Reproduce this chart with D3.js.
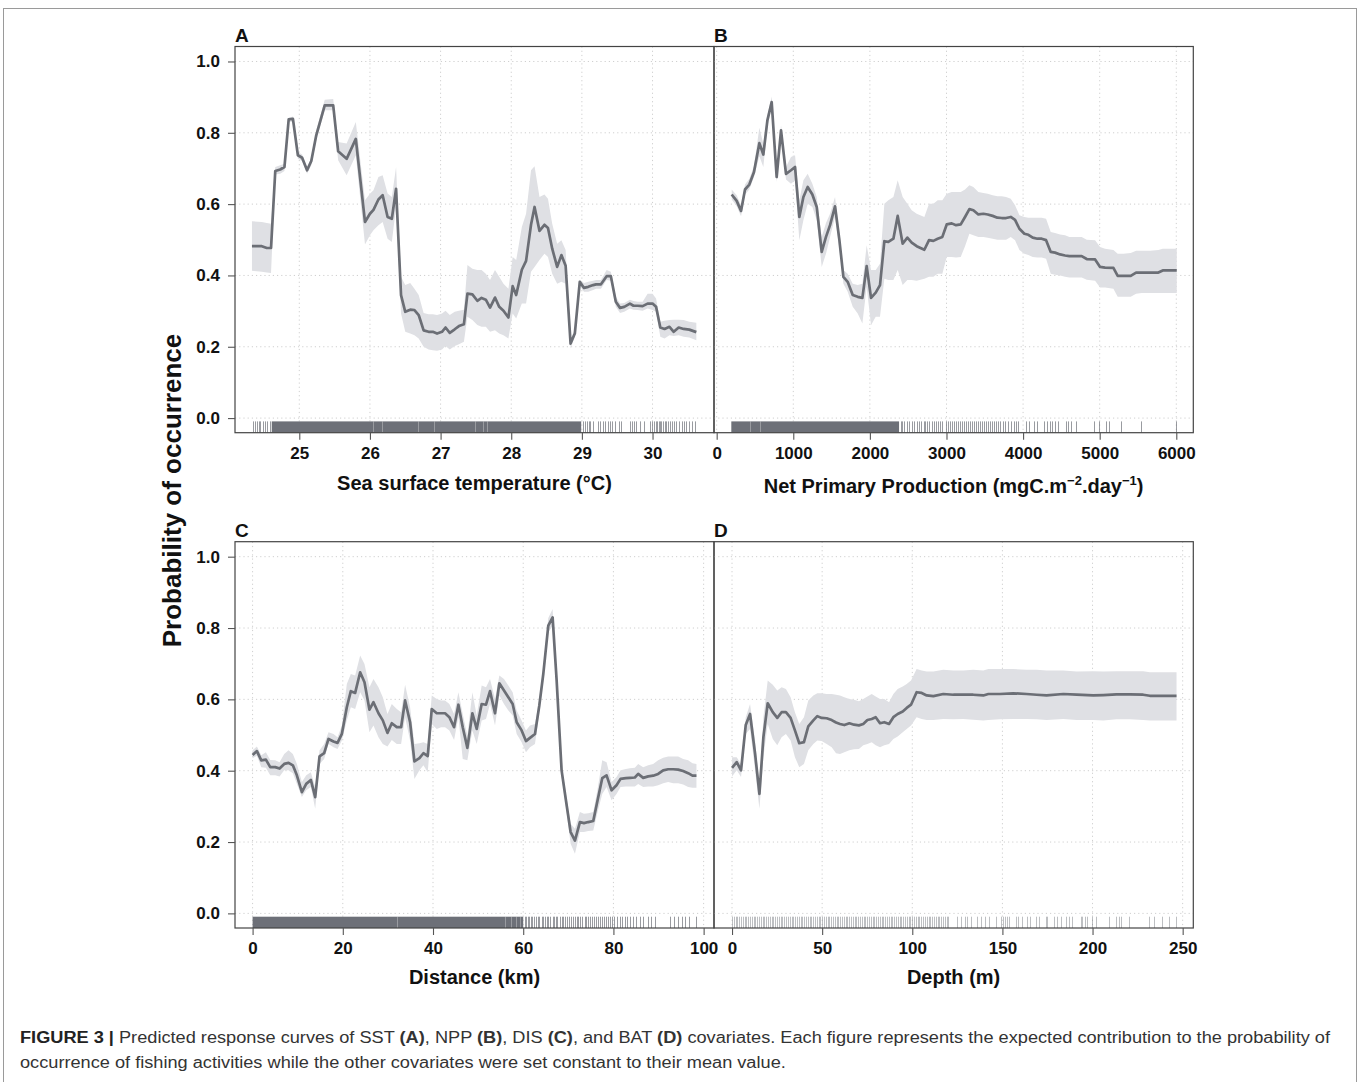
<!DOCTYPE html>
<html><head><meta charset="utf-8">
<script src="https://cdn.jsdelivr.net/npm/d3@7"></script>
<style>
body{margin:0;background:#fff}
svg{display:block}
text{font-family:"Liberation Sans",Arial,Helvetica,sans-serif}
</style>
</head><body>
<svg id="c" width="1360" height="1082"></svg>
<script>
// ---------------- DATA ----------------
const yTickValues = [0.0, 0.2, 0.4, 0.6, 0.8, 1.0];

// Panel A : Sea surface temperature
const sstTicks = [25, 26, 27, 28, 29, 30];
const sstX = [24.33,24.47,24.54,24.60,24.66,24.73,24.79,24.85,24.91,24.98,25.04,25.11,25.17,25.24,25.36,25.48,25.55,25.67,25.80,25.93,26.00,26.05,26.12,26.18,26.25,26.31,26.37,26.44,26.50,26.57,26.63,26.69,26.76,26.83,26.89,26.95,27.02,27.07,27.13,27.20,27.26,27.33,27.38,27.45,27.52,27.58,27.64,27.70,27.77,27.83,27.89,27.96,28.02,28.07,28.15,28.21,28.28,28.33,28.40,28.47,28.52,28.58,28.65,28.71,28.77,28.84,28.90,28.97,29.03,29.09,29.16,29.20,29.27,29.35,29.41,29.48,29.54,29.60,29.68,29.73,29.79,29.86,29.93,30.00,30.05,30.11,30.17,30.24,30.30,30.37,30.44,30.52,30.62];
const sstFit = [0.482,0.482,0.477,0.477,0.693,0.697,0.704,0.838,0.839,0.737,0.730,0.695,0.721,0.793,0.877,0.877,0.748,0.727,0.783,0.550,0.573,0.584,0.613,0.625,0.564,0.559,0.643,0.345,0.298,0.304,0.303,0.289,0.246,0.242,0.242,0.237,0.242,0.254,0.239,0.249,0.258,0.263,0.349,0.347,0.329,0.337,0.332,0.310,0.338,0.312,0.301,0.282,0.370,0.345,0.416,0.441,0.542,0.592,0.525,0.542,0.533,0.475,0.424,0.457,0.427,0.209,0.237,0.382,0.365,0.368,0.373,0.375,0.375,0.398,0.398,0.326,0.309,0.312,0.321,0.315,0.315,0.314,0.321,0.321,0.312,0.254,0.250,0.256,0.242,0.254,0.250,0.248,0.241];
const sstHi = [0.552,0.550,0.547,0.545,0.704,0.709,0.713,0.842,0.846,0.746,0.739,0.704,0.731,0.807,0.893,0.895,0.774,0.770,0.830,0.611,0.629,0.639,0.676,0.681,0.630,0.620,0.704,0.396,0.373,0.379,0.363,0.345,0.295,0.291,0.291,0.289,0.293,0.301,0.289,0.298,0.301,0.304,0.429,0.419,0.415,0.415,0.405,0.387,0.415,0.396,0.377,0.363,0.452,0.443,0.536,0.573,0.695,0.706,0.620,0.627,0.615,0.545,0.489,0.499,0.471,0.223,0.246,0.388,0.379,0.382,0.385,0.387,0.387,0.415,0.410,0.340,0.321,0.323,0.332,0.328,0.326,0.326,0.349,0.349,0.335,0.270,0.273,0.275,0.276,0.276,0.275,0.270,0.267];
const sstLo = [0.413,0.410,0.408,0.407,0.683,0.685,0.693,0.830,0.830,0.727,0.721,0.685,0.709,0.779,0.863,0.863,0.723,0.681,0.737,0.487,0.513,0.527,0.541,0.550,0.503,0.494,0.592,0.293,0.242,0.237,0.232,0.223,0.200,0.192,0.190,0.189,0.192,0.202,0.192,0.202,0.207,0.214,0.284,0.275,0.261,0.256,0.256,0.242,0.246,0.237,0.232,0.223,0.293,0.279,0.321,0.321,0.410,0.424,0.443,0.461,0.452,0.405,0.377,0.382,0.377,0.195,0.228,0.370,0.354,0.354,0.359,0.363,0.363,0.387,0.385,0.312,0.295,0.298,0.307,0.304,0.303,0.301,0.307,0.303,0.298,0.228,0.223,0.232,0.230,0.232,0.228,0.226,0.218];
const sstRugDense = [[24.61, 28.99]];
const sstRugGaps = [26.05, 26.17, 26.68, 26.91, 27.49, 27.60, 27.66];
const sstRug = [24.34,24.37,24.40,24.43,24.45,24.49,24.52,24.55,24.58,29.02,29.04,29.07,29.10,29.12,29.16,29.23,29.26,29.30,29.33,29.37,29.40,29.43,29.47,29.52,29.55,29.68,29.71,29.74,29.77,29.82,29.88,29.96,29.99,30.02,30.05,30.07,30.09,30.10,30.12,30.15,30.17,30.19,30.22,30.25,30.27,30.30,30.33,30.37,30.41,30.44,30.48,30.51,30.56,30.60];

// Panel B : Net primary production
const nppTicks = [0, 1000, 2000, 3000, 4000, 5000, 6000];
const nppX = [196,261,318,370,426,487,557,609,662,718,783,840,905,970,1023,1079,1132,1188,1249,1306,1371,1427,1480,1545,1602,1654,1710,1776,1841,1902,1958,2015,2076,2132,2189,2241,2307,2363,2428,2489,2546,2611,2711,2772,2829,2885,2946,3003,3068,3125,3186,3242,3299,3351,3416,3482,3538,3603,3664,3721,3778,3839,3895,3952,4017,4069,4126,4187,4243,4300,4361,4417,4483,4548,4604,4670,4765,4831,4940,5005,5070,5179,5235,5309,5405,5475,5549,5658,5766,5823,5919,6006];
const nppFit = [0.627,0.609,0.581,0.641,0.655,0.690,0.771,0.739,0.835,0.886,0.676,0.807,0.685,0.695,0.704,0.564,0.620,0.648,0.627,0.592,0.466,0.508,0.541,0.594,0.499,0.396,0.382,0.345,0.340,0.337,0.426,0.337,0.352,0.373,0.496,0.494,0.503,0.567,0.489,0.506,0.492,0.482,0.472,0.499,0.497,0.503,0.508,0.543,0.546,0.541,0.543,0.564,0.586,0.583,0.571,0.573,0.571,0.567,0.562,0.561,0.561,0.564,0.556,0.531,0.517,0.514,0.506,0.503,0.503,0.499,0.466,0.464,0.459,0.456,0.454,0.454,0.454,0.446,0.445,0.424,0.422,0.421,0.399,0.399,0.399,0.408,0.408,0.408,0.408,0.414,0.414,0.414];
const nppHi = [0.641,0.625,0.597,0.655,0.671,0.706,0.814,0.769,0.849,0.902,0.693,0.821,0.704,0.732,0.737,0.611,0.667,0.685,0.657,0.620,0.508,0.547,0.573,0.620,0.517,0.415,0.405,0.377,0.373,0.377,0.485,0.415,0.415,0.433,0.601,0.611,0.620,0.667,0.620,0.601,0.583,0.573,0.564,0.601,0.601,0.611,0.611,0.629,0.634,0.634,0.634,0.641,0.653,0.648,0.634,0.631,0.629,0.625,0.622,0.622,0.620,0.615,0.597,0.569,0.564,0.562,0.562,0.562,0.562,0.559,0.522,0.519,0.515,0.513,0.508,0.508,0.508,0.500,0.499,0.480,0.475,0.471,0.461,0.461,0.463,0.469,0.469,0.469,0.471,0.475,0.475,0.475];
const nppLo = [0.613,0.594,0.566,0.627,0.641,0.676,0.734,0.704,0.818,0.872,0.662,0.790,0.669,0.657,0.667,0.499,0.555,0.601,0.592,0.555,0.424,0.461,0.508,0.564,0.475,0.377,0.354,0.312,0.293,0.265,0.368,0.260,0.284,0.284,0.391,0.387,0.387,0.415,0.373,0.387,0.387,0.385,0.391,0.396,0.396,0.405,0.405,0.452,0.452,0.450,0.452,0.482,0.517,0.513,0.508,0.508,0.506,0.503,0.500,0.500,0.500,0.508,0.499,0.471,0.461,0.457,0.452,0.450,0.450,0.447,0.405,0.402,0.400,0.396,0.394,0.394,0.394,0.388,0.385,0.366,0.366,0.363,0.340,0.340,0.340,0.349,0.351,0.351,0.351,0.351,0.351,0.351];
const nppRugDense = [[191, 2381]];
const nppRugGaps = [435, 566];
const nppRug = [2400,2425,2450,2480,2510,2545,2575,2610,2645,2670,2700,2725,2750,2775,2805,2835,2865,2890,2915,2945,2990,3020,3045,3075,3100,3125,3150,3180,3205,3230,3255,3280,3310,3335,3360,3385,3410,3440,3465,3490,3515,3545,3570,3595,3620,3650,3675,3700,3735,3770,3805,3840,3875,3905,3940,4034,4078,4143,4178,4274,4317,4352,4382,4413,4456,4557,4587,4631,4687,4927,4992,5079,5122,5275,5536,5993];

// Panel C : Distance
const disTicks = [0, 20, 40, 60, 80, 100];
const disX = [0,0.96,1.92,2.95,3.91,5.02,5.98,7.01,7.97,8.93,9.82,10.93,11.89,12.92,13.88,14.84,15.87,16.83,17.94,18.83,19.79,20.89,21.78,22.74,23.85,24.81,25.91,26.80,27.91,28.87,29.90,30.86,31.97,32.93,33.81,34.92,35.88,36.99,37.87,38.83,39.72,40.83,41.79,42.67,43.63,44.67,45.63,46.59,47.62,48.73,49.69,50.79,51.75,52.64,53.75,54.71,55.74,56.70,57.66,58.55,59.65,60.61,61.50,62.61,63.57,64.45,65.56,66.52,67.41,68.51,69.47,70.51,71.47,72.57,73.46,74.42,75.53,76.49,77.52,78.48,79.59,80.69,81.58,82.76,83.65,84.75,85.49,86.60,87.71,88.81,89.92,91.03,92.14,93.24,94.35,95.46,96.57,97.53,98.41];
const disFit = [0.444,0.455,0.429,0.431,0.410,0.410,0.406,0.419,0.422,0.415,0.387,0.340,0.363,0.374,0.326,0.440,0.449,0.489,0.482,0.478,0.503,0.578,0.623,0.618,0.676,0.648,0.571,0.592,0.561,0.541,0.506,0.533,0.522,0.522,0.597,0.536,0.426,0.435,0.449,0.441,0.573,0.561,0.561,0.561,0.550,0.522,0.585,0.522,0.464,0.561,0.517,0.587,0.585,0.623,0.561,0.645,0.625,0.606,0.587,0.536,0.513,0.483,0.492,0.503,0.583,0.671,0.807,0.830,0.653,0.401,0.317,0.228,0.204,0.256,0.253,0.256,0.259,0.317,0.379,0.387,0.345,0.359,0.377,0.379,0.380,0.381,0.391,0.380,0.384,0.386,0.391,0.401,0.404,0.404,0.403,0.399,0.393,0.386,0.386];
const disHi = [0.457,0.468,0.443,0.452,0.430,0.429,0.424,0.447,0.457,0.447,0.419,0.368,0.387,0.396,0.354,0.457,0.475,0.508,0.503,0.494,0.527,0.643,0.671,0.667,0.723,0.699,0.634,0.657,0.634,0.606,0.559,0.587,0.573,0.564,0.641,0.578,0.475,0.477,0.480,0.475,0.611,0.601,0.597,0.597,0.587,0.559,0.620,0.559,0.499,0.620,0.555,0.639,0.634,0.657,0.601,0.667,0.657,0.639,0.620,0.569,0.541,0.513,0.527,0.531,0.601,0.690,0.828,0.853,0.671,0.415,0.335,0.251,0.237,0.284,0.279,0.281,0.284,0.349,0.429,0.424,0.368,0.382,0.401,0.405,0.407,0.408,0.419,0.410,0.415,0.419,0.429,0.436,0.440,0.440,0.440,0.433,0.429,0.421,0.419];
const disLo = [0.435,0.442,0.410,0.408,0.387,0.387,0.384,0.401,0.401,0.393,0.363,0.326,0.345,0.354,0.293,0.419,0.433,0.475,0.466,0.461,0.485,0.541,0.578,0.573,0.620,0.597,0.508,0.527,0.494,0.475,0.468,0.486,0.475,0.475,0.550,0.485,0.377,0.401,0.415,0.396,0.531,0.517,0.522,0.522,0.513,0.486,0.550,0.433,0.429,0.513,0.475,0.541,0.545,0.587,0.527,0.611,0.587,0.569,0.555,0.503,0.480,0.452,0.466,0.475,0.564,0.653,0.788,0.807,0.634,0.382,0.298,0.195,0.167,0.228,0.228,0.231,0.232,0.284,0.335,0.354,0.317,0.335,0.354,0.356,0.356,0.356,0.363,0.354,0.356,0.356,0.359,0.365,0.368,0.365,0.365,0.361,0.354,0.352,0.352];
const disRugDense = [[0, 60.0]];
const disRugGaps = [32.0, 56.0, 57.2, 58.4, 59.2];
const disRug = [60.3,60.6,61.0,61.3,61.7,62.0,62.4,62.9,63.2,63.6,64.1,64.4,64.8,65.3,65.6,66.0,66.5,66.8,67.3,67.6,68.1,68.5,68.8,69.3,69.7,70.2,70.5,71.0,71.4,71.9,72.2,72.7,73.1,73.6,74.0,74.4,74.9,75.2,75.8,76.1,76.6,77.0,77.5,77.9,78.4,78.8,79.3,79.7,80.2,80.9,81.4,81.9,82.5,83.1,83.7,84.4,85.1,85.9,86.6,87.7,88.3,89.3,92.5,93.5,94.4,95.1,95.8,96.7,98.4];

// Panel D : Depth
const batTicks = [0, 50, 100, 150, 200, 250];
const batX = [0,2.6,5.0,7.6,10.0,12.8,15.2,17.4,19.8,22.6,25.1,27.5,29.9,32.5,34.9,37.3,39.9,42.3,45.1,47.3,49.7,52.5,55.3,57.7,59.9,62.3,65.1,67.7,70.4,72.8,75.1,77.5,79.7,82.1,84.5,87.1,89.5,91.9,94.7,96.9,99.3,102.4,105.2,108.0,111.7,117.2,122.8,128.3,133.8,139.4,142.2,148.6,156.0,163.4,169.0,174.5,183.8,191.2,200.4,206.0,213.3,220.7,228.1,231.8,239.2,246.6];
const batFit = [0.408,0.424,0.401,0.528,0.559,0.447,0.335,0.494,0.589,0.564,0.548,0.564,0.564,0.548,0.513,0.477,0.480,0.524,0.541,0.553,0.548,0.547,0.542,0.535,0.531,0.528,0.533,0.529,0.527,0.531,0.542,0.545,0.550,0.533,0.536,0.531,0.550,0.559,0.566,0.576,0.585,0.620,0.618,0.611,0.609,0.615,0.613,0.613,0.613,0.611,0.615,0.615,0.617,0.615,0.613,0.611,0.615,0.613,0.611,0.612,0.614,0.614,0.613,0.610,0.610,0.610];
const batHi = [0.438,0.438,0.419,0.550,0.587,0.485,0.354,0.550,0.653,0.641,0.625,0.634,0.629,0.606,0.564,0.531,0.550,0.597,0.611,0.617,0.617,0.615,0.615,0.613,0.611,0.606,0.601,0.599,0.595,0.601,0.608,0.615,0.608,0.601,0.601,0.592,0.615,0.629,0.636,0.643,0.653,0.685,0.681,0.678,0.678,0.683,0.681,0.681,0.683,0.681,0.685,0.685,0.685,0.683,0.683,0.681,0.681,0.678,0.679,0.678,0.679,0.679,0.679,0.676,0.676,0.676];
const batLo = [0.384,0.401,0.382,0.503,0.517,0.401,0.293,0.438,0.531,0.489,0.471,0.494,0.503,0.485,0.438,0.410,0.419,0.457,0.475,0.485,0.483,0.475,0.466,0.449,0.447,0.452,0.457,0.460,0.461,0.471,0.475,0.480,0.471,0.466,0.471,0.475,0.489,0.496,0.508,0.517,0.527,0.550,0.545,0.542,0.542,0.545,0.544,0.545,0.543,0.541,0.542,0.544,0.545,0.545,0.544,0.542,0.545,0.542,0.542,0.541,0.544,0.544,0.542,0.541,0.541,0.541];
const batRugDense = [];
const batRugGaps = [];
const batRug = [0,1,2,3,4,5,6,7,8,9,10,11,12,13,14,15,16,17,18,19,20,21,22,23,24,25,26,27,28,29,30,31,32,33,34,35,36,37,38,39,40,41,42,43,44,45,46,47,48,49,50,51,52,53,54,55,56,57,58,59,60,61,62,63,64,65,66,67,68,69,70,71,72,73,74,75,76,77,78,79,80,81,82,83,84,85,86,87,88,89,90,91,92,93,94,95,96,97,98,99,100,101,102,103,104,105,106,107,108,109,110,111,112,113,114,115,116,117,118,119,120,124.6,126.8,129.0,130.5,132.7,136.1,137.9,140.1,142.5,146.2,149.4,150.5,151.2,152.3,153.6,157.3,158.6,161.0,163.8,165.3,168.4,170.3,174.0,174.9,178.6,180.4,182.7,185.1,186.9,188.8,193.4,194.3,195.6,196.7,199.9,201.7,209.1,212.8,214.6,215.9,220.2,231.3,234.1,238.7,242.4,246.1];

const panelLetters = ["A", "B", "C", "D"];
const yTitle = "Probability of occurrence";

// ---------------- DRAW ----------------
const svg = d3.select("#c");
const LINE = "#6b6e75", BAND = "#dfe0e4", RUG = "#6d7078";
const yDomain = [-0.041, 1.042];

// outer frame
svg.append("rect").attr("x", 3.5).attr("y", 8.5).attr("width", 1353).attr("height", 1100)
  .attr("fill", "none").attr("stroke", "#9a9a9a").attr("stroke-width", 1);

const panels = [
  {id:"A", x0:235, x1:714, y0:46.5, y1:432.7, xd:[24.09, 30.87], ticks:sstTicks, X:sstX, F:sstFit, H:sstHi, L:sstLo, rug:sstRug, dense:sstRugDense, gaps:sstRugGaps, showY:true, fmt:d3.format("d")},
  {id:"B", x0:714, x1:1193.3, y0:46.5, y1:432.7, xd:[-35, 6222], ticks:nppTicks, X:nppX, F:nppFit, H:nppHi, L:nppLo, rug:nppRug, dense:nppRugDense, gaps:nppRugGaps, showY:false, fmt:d3.format("d")},
  {id:"C", x0:235, x1:714, y0:541.7, y1:928, xd:[-3.9, 102.3], ticks:disTicks, X:disX, F:disFit, H:disHi, L:disLo, rug:disRug, dense:disRugDense, gaps:disRugGaps, showY:true, fmt:d3.format("d")},
  {id:"D", x0:714, x1:1193.3, y0:541.7, y1:928, xd:[-10, 255.9], ticks:batTicks, X:batX, F:batFit, H:batHi, L:batLo, rug:batRug, dense:batRugDense, gaps:batRugGaps, showY:false, fmt:d3.format("d")}
];

panels.forEach((p, i) => {
  const g = svg.append("g");
  const x = d3.scaleLinear().domain(p.xd).range([p.x0, p.x1]);
  const y = d3.scaleLinear().domain(yDomain).range([p.y1, p.y0]);
  const cid = "clip" + p.id;
  svg.append("clipPath").attr("id", cid).append("rect")
    .attr("x", p.x0).attr("y", p.y0).attr("width", p.x1 - p.x0).attr("height", p.y1 - p.y0);
  const inner = g.append("g").attr("clip-path", `url(#${cid})`);

  // grid
  inner.selectAll(".gx").data(p.ticks).enter().append("line")
    .attr("x1", d => x(d)).attr("x2", d => x(d)).attr("y1", p.y0).attr("y2", p.y1)
    .attr("stroke", "#cfcfcf").attr("stroke-width", 1).attr("stroke-dasharray", "1.2,3");
  inner.selectAll(".gy").data(yTickValues).enter().append("line")
    .attr("y1", d => y(d)).attr("y2", d => y(d)).attr("x1", p.x0).attr("x2", p.x1)
    .attr("stroke", "#cfcfcf").attr("stroke-width", 1).attr("stroke-dasharray", "1.2,3");

  const pts = p.X.map((v, k) => ({x: v, f: p.F[k], h: p.H[k], l: p.L[k]}));
  inner.append("path").datum(pts)
    .attr("d", d3.area().x(d => x(d.x)).y0(d => y(d.l)).y1(d => y(d.h)))
    .attr("fill", BAND);
  inner.append("path").datum(pts)
    .attr("d", d3.line().x(d => x(d.x)).y(d => y(d.f)))
    .attr("fill", "none").attr("stroke", LINE).attr("stroke-width", 2.7).attr("stroke-linejoin", "round");

  // rug
  const rTop = p.y1 - 11.3;
  const snap = v => Math.round(x(v)) + 0.5;
  inner.selectAll(".rd").data(p.dense).enter().append("rect")
    .attr("x", d => x(d[0])).attr("width", d => x(d[1]) - x(d[0]))
    .attr("y", rTop).attr("height", p.y1 - rTop).attr("fill", RUG);
  inner.selectAll(".rg").data(p.gaps).enter().append("line")
    .attr("x1", snap).attr("x2", snap).attr("y1", rTop).attr("y2", p.y1)
    .attr("stroke", "#ffffff").attr("stroke-opacity", 0.3).attr("stroke-width", 1);
  inner.selectAll(".rs").data(p.rug).enter().append("line")
    .attr("x1", snap).attr("x2", snap).attr("y1", rTop).attr("y2", p.y1)
    .attr("stroke", RUG).attr("stroke-opacity", p.id === "D" ? 0.45 : 0.7).attr("stroke-width", 1);

  // box
  g.append("rect").attr("x", p.x0).attr("y", p.y0).attr("width", p.x1 - p.x0).attr("height", p.y1 - p.y0)
    .attr("fill", "none").attr("stroke", "#444").attr("stroke-width", 1.2);

  // x axis
  const ax = g.append("g").attr("transform", `translate(0,${p.y1})`)
    .call(d3.axisBottom(x).tickValues(p.ticks).tickFormat(p.fmt).tickSize(7).tickPadding(7));
  ax.select(".domain").remove();
  ax.selectAll(".tick line").attr("stroke", "#555").attr("stroke-width", 1.1);
  ax.selectAll(".tick text").attr("fill", "#111").style("font-size", "17px").style("font-weight", "bold");

  if (p.showY) {
    const ay = g.append("g").attr("transform", `translate(${p.x0},0)`)
      .call(d3.axisLeft(y).tickValues(yTickValues).tickFormat(d3.format(".1f")).tickSize(7).tickPadding(8));
    ay.select(".domain").remove();
    ay.selectAll(".tick line").attr("stroke", "#555").attr("stroke-width", 1.1);
    ay.selectAll(".tick text").attr("fill", "#111").style("font-size", "17px").style("font-weight", "bold");
  }

  // panel letter
  g.append("text").attr("x", p.x0).attr("y", p.y0 - 4.5).text(panelLetters[i])
    .style("font-size", "19px").style("font-weight", "bold").attr("fill", "#111");
});

// axis titles
const titleStyle = s => s.style("font-size", "20px").style("font-weight", "bold").attr("fill", "#111").attr("text-anchor", "middle");
svg.append("text").attr("x", 474.5).attr("y", 490).text("Sea surface temperature (°C)").call(titleStyle);
const nt = svg.append("text").attr("x", 953.6).attr("y", 493).call(titleStyle);
nt.append("tspan").text("Net Primary Production (mgC.m");
nt.append("tspan").text("\u22122").attr("dy", -8).style("font-size", "13px");
nt.append("tspan").text(".day").attr("dy", 8);
nt.append("tspan").text("\u22121").attr("dy", -8).style("font-size", "13px");
nt.append("tspan").text(")").attr("dy", 8);
svg.append("text").attr("x", 474.5).attr("y", 984).text("Distance (km)").call(titleStyle);
svg.append("text").attr("x", 953.6).attr("y", 984).text("Depth (m)").call(titleStyle);

svg.append("text").attr("transform", "translate(181,490.5) rotate(-90)")
  .attr("text-anchor", "middle").text(yTitle)
  .style("font-size", "26px").style("font-weight", "bold").attr("fill", "#111");

// caption
const cap1 = svg.append("text").attr("x", 20).attr("y", 1043).style("font-size", "16px").attr("fill", "#333");
[["FIGURE 3 |", true, "#222"], [" Predicted response curves of SST ", false], ["(A)", true], [", NPP ", false], ["(B)", true],
 [", DIS ", false], ["(C)", true], [", and BAT ", false], ["(D)", true],
 [" covariates. Each figure represents the expected contribution to the probability of", false]]
 .forEach(([t, b, c]) => {
   const ts = cap1.append("tspan").text(t);
   if (b) ts.style("font-weight", "bold");
   if (c) ts.attr("fill", c);
 });
const cap2 = svg.append("text").attr("x", 20).attr("y", 1068).style("font-size", "16px").attr("fill", "#333")
  .text("occurrence of fishing activities while the other covariates were set constant to their mean value.");
const l1 = cap1.node().getComputedTextLength();
const factor = (1330 - 20) / l1;
cap1.attr("textLength", l1 * factor).attr("lengthAdjust", "spacingAndGlyphs");
const l2 = cap2.node().getComputedTextLength();
cap2.attr("textLength", l2 * factor).attr("lengthAdjust", "spacingAndGlyphs");
</script>
</body></html>
